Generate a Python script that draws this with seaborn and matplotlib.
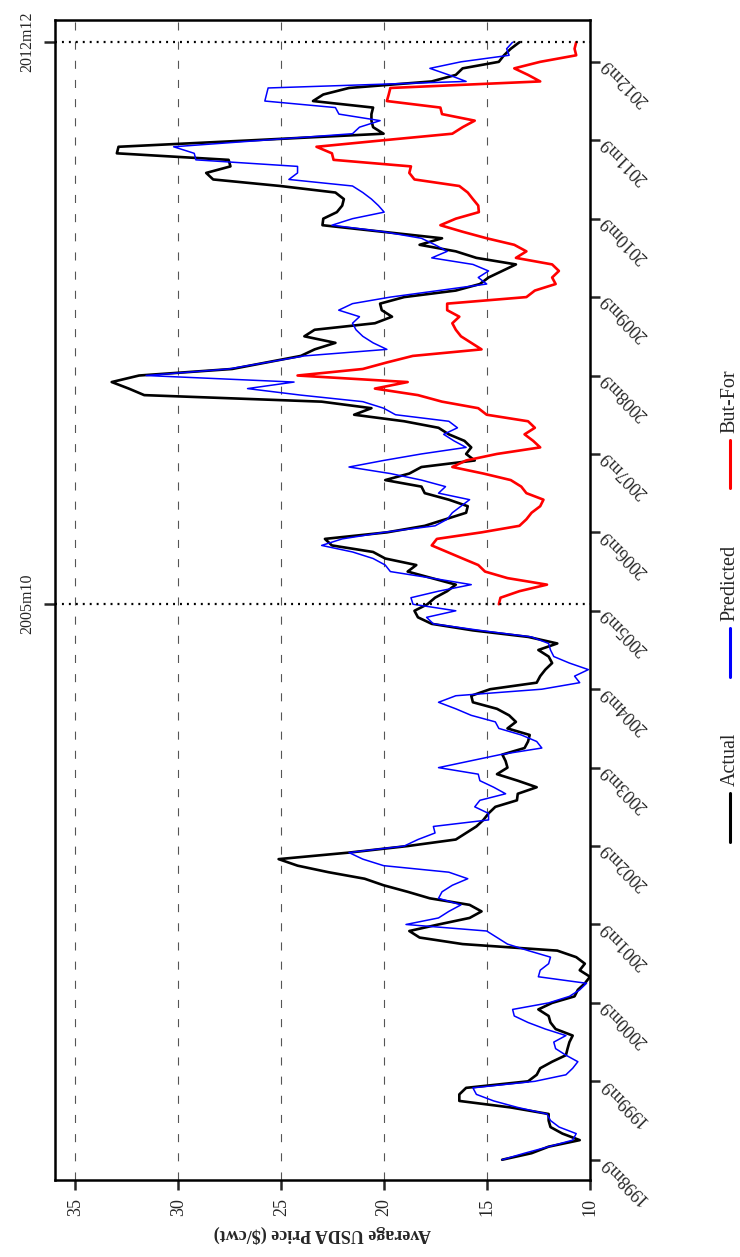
import numpy as np
import pandas as pd
import matplotlib
matplotlib.use("Agg")
import matplotlib.pyplot as plt
from matplotlib.lines import Line2D
import seaborn as sns

# ---------------- data (monthly, 1998m9 .. 2012m12) ----------------
actual = [
    14.27, 12.84, 12.01, 10.50,                                        # 1998m9-m12
    11.34, 11.92, 12.01, 12.01, 13.85, 16.35, 16.35, 16.02, 13.01, 12.59, 12.42, 11.84,  # 1999
    11.17, 11.09, 11.00, 10.84, 11.67, 11.92, 12.01, 12.51, 11.84, 10.75, 10.59, 10.25,  # 2000
    10.00, 10.50, 10.25, 10.67, 11.59, 16.19, 18.28, 18.78, 17.36, 15.85, 15.27, 15.85,  # 2001
    17.78, 18.86, 20.03, 20.95, 22.71, 24.21, 25.13, 21.71, 18.86, 16.52, 16.02, 15.52,  # 2002
    15.18, 14.93, 14.60, 13.55, 13.51, 12.59, 13.51, 14.52, 14.01, 14.10, 14.26, 13.18,  # 2003
    13.01, 12.93, 14.01, 13.60, 13.93, 14.52, 15.69, 15.77, 14.85, 12.59, 12.42, 12.17,  # 2004
    11.84, 12.01, 12.51, 11.59, 13.00, 15.69, 17.69, 18.36, 18.53, 17.90, 17.53, 16.94,  # 2005
    16.52, 17.69, 18.86, 18.44, 19.95, 20.54, 22.54, 22.88, 19.87, 18.03, 17.02, 16.02,  # 2006
    15.94, 16.86, 18.03, 18.19, 19.95, 18.78, 18.19, 15.60, 16.02, 15.77, 16.10, 16.86,  # 2007
    17.36, 19.03, 21.46, 20.62, 23.04, 31.66, 32.41, 33.24, 31.91, 27.39, 25.72, 24.05,  # 2008
    23.38, 22.37, 23.88, 23.38, 20.45, 19.62, 20.12, 20.20, 19.03, 16.52, 15.35, 14.93,  # 2009
    14.26, 13.60, 15.52, 16.52, 18.28, 17.19, 20.10, 23.00, 22.96, 22.30, 22.04, 21.96,  # 2010
    22.37, 25.05, 28.31, 28.65, 27.47, 27.56, 32.99, 32.91, 26.39, 20.03, 20.54, 20.62,  # 2011
    20.62, 20.54, 23.46, 22.96, 21.71, 17.69, 16.52, 16.19, 14.43, 14.18, 13.85, 13.43,  # 2012
]
predicted = [
    14.27, 13.18, 12.01, 10.84,
    10.67, 11.50, 11.92, 12.09, 13.51, 14.68, 15.52, 15.69, 12.68, 11.17, 10.84, 10.59,
    11.17, 11.67, 11.76, 11.17, 12.17, 13.01, 13.68, 13.76, 12.01, 11.00, 10.50, 10.17,
    12.51, 12.42, 12.01, 11.92, 13.00, 14.01, 14.52, 15.02, 18.94, 17.36, 16.86, 16.27,
    17.36, 17.19, 16.69, 15.94, 16.86, 20.03, 21.04, 21.71, 19.03, 18.36, 17.53, 17.61,
    14.93, 14.93, 15.60, 15.35, 14.10, 14.68, 15.35, 15.43, 17.36, 15.85, 14.35, 12.34,
    12.59, 13.34, 14.43, 14.60, 15.77, 16.52, 17.36, 16.52, 12.34, 10.50, 10.75, 10.08,
    11.00, 11.76, 11.92, 12.01, 12.84, 15.35, 17.61, 17.94, 16.52, 18.60, 18.70, 17.36,
    15.77, 17.69, 19.70, 19.95, 20.54, 21.54, 23.04, 22.04, 20.03, 17.53, 16.94, 16.69,
    16.27, 15.85, 17.36, 17.02, 18.19, 19.70, 21.71, 20.03, 18.19, 16.02, 16.61, 17.11,
    16.44, 16.86, 19.45, 20.03, 21.04, 24.05, 26.64, 24.38, 31.57, 27.56, 25.72, 23.88,
    19.87, 20.54, 21.04, 21.37, 21.54, 21.20, 22.21, 21.54, 19.70, 17.36, 15.02, 15.43,
    14.93, 15.69, 17.69, 16.94, 17.53, 18.19, 20.03, 22.54, 21.54, 20.00, 20.28, 20.62,
    21.04, 21.54, 24.63, 24.21, 24.21, 29.15, 29.23, 30.23, 25.90, 21.54, 21.20, 20.20,
    22.20, 22.37, 25.80, 25.72, 25.64, 16.02, 16.86, 17.78, 16.27, 13.93, 14.05, 13.76,
]
# But-For starts in 2005m10
butfor = [
    14.43, 14.35, 13.43,
    12.09, 14.01, 15.10, 15.43, 16.19, 16.94, 17.69, 17.44, 15.27, 13.43, 13.09, 12.84,  # 2006
    12.42, 12.26, 13.09, 13.34, 13.85, 15.18, 16.69, 16.02, 14.52, 12.42, 12.76, 13.18,  # 2007
    12.68, 13.01, 15.02, 15.43, 17.19, 18.36, 20.45, 18.86, 24.21, 21.04, 19.87, 18.61,  # 2008
    15.27, 15.77, 16.27, 16.52, 16.69, 16.35, 16.94, 16.94, 13.09, 12.68, 11.67, 11.84,  # 2009
    11.51, 11.84, 13.60, 13.09, 13.68, 15.02, 16.19, 17.27, 16.52, 15.40, 15.43, 15.69,  # 2010
    15.94, 16.35, 18.53, 18.78, 18.70, 22.46, 22.54, 23.29, 20.03, 16.69, 16.19, 15.60,  # 2011
    17.19, 17.27, 19.87, 19.78, 19.70, 12.42, 13.01, 13.68, 12.42, 10.67, 10.75, 10.67,  # 2012
]
butfor_start = 85          # month index of 2005m10 (0 = 1998m9)
series_names = ["Actual", "Predicted", "But-For"]
series_colors = ["#000000", "#0000ff", "#ff0000"]
time_tick_pos = [0, 12, 24, 36, 48, 60, 72, 84, 96, 108, 120, 132, 144, 156, 168]
time_tick_labels = ["1998m9", "1999m9", "2000m9", "2001m9", "2002m9", "2003m9", "2004m9",
                    "2005m9", "2006m9", "2007m9", "2008m9", "2009m9", "2010m9", "2011m9", "2012m9"]
ref_pos = [85, 171]
ref_labels = ["2005m10", "2012m12"]
price_ticks = [10, 15, 20, 25, 30, 35]
axis_title = "Average USDA Price ($/cwt)"

# ---------------- build long table ----------------
t_all = np.arange(len(actual))
df = pd.concat([
    pd.DataFrame({"price": actual, "t": t_all, "series": "Actual"}),
    pd.DataFrame({"price": predicted, "t": np.arange(len(predicted)), "series": "Predicted"}),
    pd.DataFrame({"price": butfor, "t": butfor_start + np.arange(len(butfor)), "series": "But-For"}),
], ignore_index=True)

sns.set_style("white")
plt.rcParams["font.family"] = ["Liberation Serif", "DejaVu Serif"]
plt.rcParams["lines.scale_dashes"] = False

W, H = 740, 1257
fig = plt.figure(figsize=(W / 100, H / 100), dpi=100)
L, R, T, B = 54.5, 590.0, 20.0, 1180.0
ax = fig.add_axes([L / W, 1 - B / H, (R - L) / W, (B - T) / H])

# grid (dashed, vertical in this rotated layout)
for v in price_ticks[1:]:
    ax.axvline(v, color="#555555", lw=0.8, ls=(0, (5.8, 8.0)), zorder=0)

widths = {"Actual": 1.9, "Predicted": 1.1, "But-For": 1.9}
for name, col in zip(series_names, series_colors):
    sub = df[df["series"] == name]
    sns.lineplot(data=sub, x="price", y="t", sort=False, estimator=None,
                 color=col, lw=widths[name], ax=ax, legend=False)

for p in ref_pos:
    ax.axhline(p, color="black", lw=1.6, ls=(0, (1.4, 3.6)), zorder=3)

ax.set_xlim(36.02, 10.0)
ax.set_ylim(-3.1, 174.4)

for s in ax.spines.values():
    s.set_linewidth(1.8)
    s.set_color("black")

# price axis (bottom)
ax.set_xticks(price_ticks)
ax.set_xticklabels([str(v) for v in price_ticks], rotation=90, fontsize=13)
ax.tick_params(axis="x", direction="out", length=7, width=1.8, pad=6, bottom=True)
ax.set_xlabel(axis_title, rotation=180, fontweight="bold", fontsize=13, labelpad=6)

# time axis (right)
ax.yaxis.tick_right()
ax.set_yticks(time_tick_pos)
ax.set_yticklabels(time_tick_labels, fontsize=13)
ax.tick_params(axis="y", direction="out", length=7, width=1.8, pad=3, right=True, left=False)
for lab in ax.get_yticklabels():
    lab.set_rotation(135)
    lab.set_rotation_mode("anchor")
    lab.set_ha("right")
    lab.set_va("center")
ax.set_ylabel("")

# reference-line labels (left)
sec = ax.secondary_yaxis("left")
sec.set_yticks(ref_pos)
sec.set_yticklabels(ref_labels, rotation=90, va="center", fontsize=11.5)
sec.tick_params(direction="out", length=8, width=1.8, pad=6)
sec.spines["left"].set_visible(False)

# legend (manual, rotated)
leg_x = 730 / W
leg_entries = [("But-For", "#ff0000", 440, 488),
               ("Predicted", "#0000ff", 628, 677),
               ("Actual", "#000000", 793, 842)]
for name, col, y0, y1 in leg_entries:
    fig.add_artist(Line2D([leg_x, leg_x], [1 - y0 / H, 1 - y1 / H],
                          transform=fig.transFigure, color=col, lw=2.2))
    fig.text(leg_x, 1 - (y0 - 7) / H, name, rotation=90, ha="center", va="bottom",
             fontsize=14.5)

fig.savefig("out.png", dpi=100)
